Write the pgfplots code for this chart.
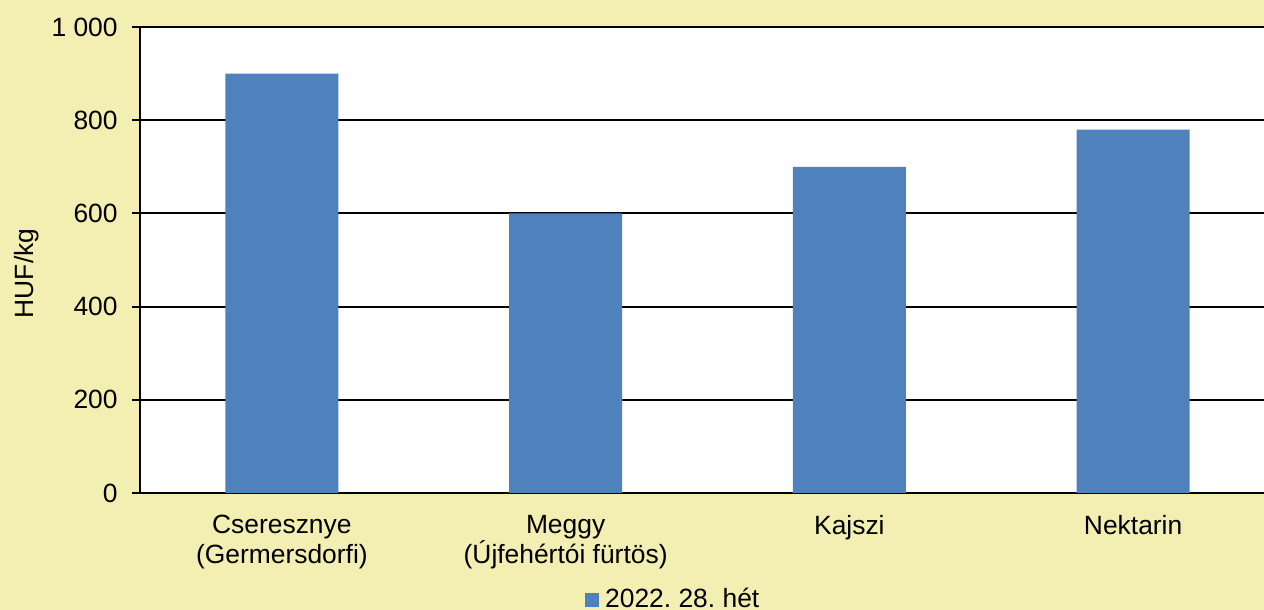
\documentclass[border=0pt]{standalone}
\usepackage{pgfplots}
\pgfplotsset{compat=1.18}
\usepackage{fontspec}
\setmainfont{Liberation Sans}
\frenchspacing
\definecolor{bg}{RGB}{243,238,178}
\definecolor{barblue}{RGB}{79,129,189}
\begin{document}
\fontsize{19.8}{22.5}\selectfont
\begin{tikzpicture}
\path[use as bounding box, fill=bg] (0,0) rectangle (948pt,457.5pt);
\begin{axis}[
  at={(105pt,87.75pt)}, anchor=south west,
  scale only axis, width=851.25pt, height=349.5pt,
  axis background/.style={fill=white},
  ybar, bar width=84.75pt,
  xmin=-0.5, xmax=3.5, ymin=0, ymax=1000,
  xtick={0,1,2,3},
  xticklabels={{Cseresznye\\(Germersdorfi)},{Meggy\\(Újfehértói fürtös)},Kajszi,Nektarin},
  xticklabel style={align=center, font=\fontsize{19.8}{22.5}\selectfont, yshift=-4pt},
  x tick style={draw=none},
  ytick={0,200,400,600,800,1000},
  y tick style={black, line width=1.6pt},
  tick align=outside, major tick length=6pt,
  yticklabel style={font=\fontsize{19.8}{22.5}\selectfont, xshift=-4pt},
  /pgf/number format/assume math mode=true,
  /pgf/number format/1000 sep={\ },
  ymajorgrids, grid style={black, line width=1.6pt},
  axis x line*=bottom, axis y line*=left,
  axis line style={-, black, line width=1.8pt},
  ylabel={HUF/kg},
  ylabel style={at={(axis description cs:-0.0996,0.471)}, anchor=center, font=\fontsize{19.8}{22.5}\selectfont},
  legend style={at={(axis description cs:0.392,-0.2296)}, anchor=west, draw=none, fill=none,
    font=\fontsize{19.8}{22.5}\selectfont\frenchspacing, inner sep=0pt},
  legend image code/.code={\fill[barblue] (0pt,-5.25pt) rectangle (10.5pt,5.25pt); \path (13pt,0pt);},
]
\addplot[fill=barblue, draw=none] coordinates {(0,900) (1,600) (2,700) (3,780)};
\addlegendentry{2022. 28. hét}
\end{axis}
\end{tikzpicture}
\end{document}
